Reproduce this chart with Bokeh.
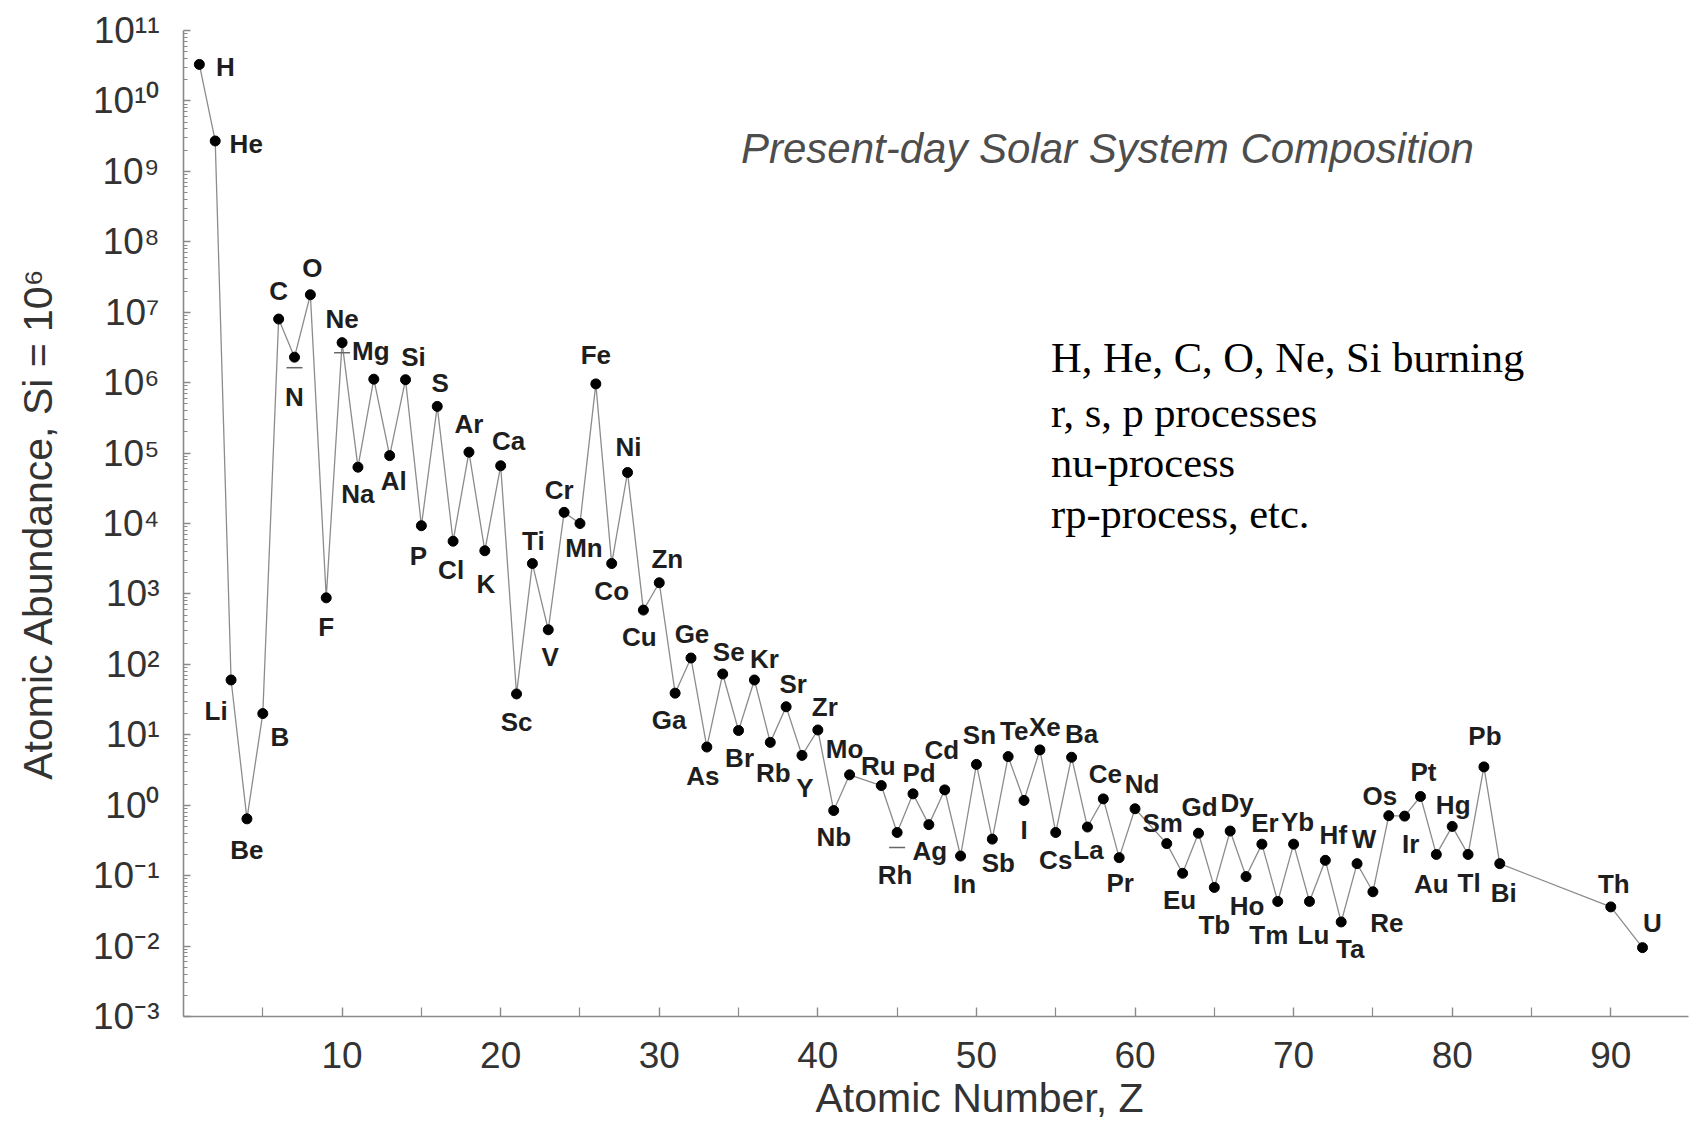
from bokeh.plotting import figure
from bokeh.models import Range1d, FixedTicker, CustomJSTickFormatter, ColumnDataSource, Label, Title
from bokeh.embed import file_html
from bokeh.resources import INLINE
from bokeh.core.properties import value

# ---------------- data ----------------
elements = ["H", "He", "Li", "Be", "B", "C", "N", "O", "F", "Ne",
            "Na", "Mg", "Al", "Si", "P", "S", "Cl", "Ar", "K", "Ca",
            "Sc", "Ti", "V", "Cr", "Mn", "Fe", "Co", "Ni", "Cu", "Zn",
            "Ga", "Ge", "As", "Se", "Br", "Kr", "Rb", "Sr", "Y", "Zr",
            "Nb", "Mo", "Ru", "Rh", "Pd", "Ag", "Cd", "In", "Sn", "Sb",
            "Te", "I", "Xe", "Cs", "Ba", "La", "Ce", "Pr", "Nd", "Sm",
            "Eu", "Gd", "Tb", "Dy", "Ho", "Er", "Tm", "Yb", "Lu", "Hf",
            "Ta", "W", "Re", "Os", "Ir", "Pt", "Au", "Hg", "Tl", "Pb",
            "Bi", "Th", "U"]

atomic_number = [1, 2, 3, 4, 5, 6, 7, 8, 9, 10,
                 11, 12, 13, 14, 15, 16, 17, 18, 19, 20,
                 21, 22, 23, 24, 25, 26, 27, 28, 29, 30,
                 31, 32, 33, 34, 35, 36, 37, 38, 39, 40,
                 41, 42, 44, 45, 46, 47, 48, 49, 50, 51,
                 52, 53, 54, 55, 56, 57, 58, 59, 60, 62,
                 63, 64, 65, 66, 67, 68, 69, 70, 71, 72,
                 73, 74, 75, 76, 77, 78, 79, 80, 81, 82,
                 83, 90, 92]

abundance = [3.3e10, 2.7e9, 60, 0.64, 20, 8.0e6, 2.3e6, 1.77e7, 880, 3.7e6,
             6.3e4, 1.12e6, 9.2e4, 1.1e6, 9.3e3, 4.6e5, 5.6e3, 1.03e5, 4.1e3, 6.6e4,
             38, 2.7e3, 310, 1.44e4, 1.0e4, 9.6e5, 2.7e3, 5.3e4, 590, 1.44e3,
             39, 123, 6.7, 73, 11.5, 60, 7.8, 25, 5.1, 11.7,
             0.84, 2.7, 1.9, 0.41, 1.45, 0.53, 1.65, 0.19, 3.8, 0.33,
             4.9, 1.17, 6.1, 0.41, 4.8, 0.49, 1.23, 0.18, 0.89, 0.285,
             0.108, 0.40, 0.068, 0.43, 0.097, 0.28, 0.043, 0.28, 0.043, 0.165,
             0.022, 0.148, 0.059, 0.71, 0.70, 1.33, 0.20, 0.50, 0.20, 3.5,
             0.148, 0.036, 0.0095]

# small horizontal bars (alternative values) seen at N, Ne and Rh
alt_z = [7, 10, 45]
alt_values = [1.63e6, 2.66e6, 0.25]

x_ticks = [10, 20, 30, 40, 50, 60, 70, 80, 90]
x_minor_ticks = [5, 15, 25, 35, 45, 55, 65, 75, 85, 95]
y_exponents = [-3, -2, -1, 0, 1, 2, 3, 4, 5, 6, 7, 8, 9, 10, 11]
y_tick_labels = ["10⁻³", "10⁻²", "10⁻¹", "10⁰", "10¹", "10²", "10³", "10⁴",
                 "10⁵", "10⁶", "10⁷", "10⁸", "10⁹", "10¹⁰", "10¹¹"]

title_text = "Present-day Solar System Composition"
x_title = "Atomic Number, Z"
y_title = "Atomic Abundance, Si = 10⁶"
note_lines = ["H, He, C, O, Ne, Si burning", "r, s, p processes",
              "nu-process", "rp-process, etc."]

# ---------------- label layout (pixel offsets of each element symbol) ----------------
label_dx = [26, 31, -15, 0, 17, 0, 0, 2, 0, 0,
            0, -3, 4, 8, -3, 3, -2, 0, 1, 8,
            0, 1, 2, -5, 4, 0, 0, 1, -4, 8,
            -6, 1, -4, 6, 1, 10, 3, 7, 3, 7,
            0, -5, -3, -2, 6, 1, -3, 4, 3, 6,
            6, 0, 5, 0, 10, 1, 2, 1, 7, -4,
            -3, 1, 0, 7, 1, 3, -9, 4, 4, 8,
            9, 7, 14, -9, 6, 3, -5, 1, 1, 1,
            4, 3, 10]
label_dy = [3, 3, 31, 31, 23, -28, 40, -27, 29, -24,
            27, -28, 25, -23, 30, -23, 29, -28, 33, -25,
            28, -23, 27, -22, 24, -29, 27, -25, 27, -24,
            27, -24, 29, -22, 27, -21, 31, -23, 33, -23,
            26, -26, -20, 43, -21, 26, -40, 28, -29, 24,
            -26, 30, -23, 28, -23, 23, -25, 25, -25, -21,
            27, -26, 38, -28, 29, -21, 34, -22, 34, -25,
            27, -25, 31, -20, 28, -24, 30, -21, 29, -31,
            29, -23, -25]

src = ColumnDataSource(dict(z=atomic_number, val=abundance, el=elements,
                            dx=label_dx, dy=label_dy))

p = figure(width=1690, height=1122,
           x_range=Range1d(0, 94.9), y_range=Range1d(1e-3, 1e11),
           y_axis_type="log", output_backend="svg", toolbar_location=None,
           min_border_left=183, min_border_right=2,
           min_border_top=30, min_border_bottom=106)
p.outline_line_color = None
p.grid.visible = False
p.background_fill_color = "white"
p.border_fill_color = "white"

axis_col = "#8a8a8a"
for ax in (p.xaxis[0], p.yaxis[0]):
    ax.axis_line_color = axis_col
    ax.axis_line_width = 1.6
    ax.major_tick_line_color = axis_col
    ax.minor_tick_line_color = axis_col
    ax.major_tick_line_width = 1.4
    ax.minor_tick_line_width = 1.2
    ax.major_tick_out = 0
    ax.minor_tick_out = 0
    ax.major_label_text_font = "Liberation Sans"
    ax.major_label_text_font_size = "37px"
    ax.major_label_text_color = "#333333"
    ax.axis_label_text_font = "Liberation Sans"
    ax.axis_label_text_font_style = "normal"
    ax.axis_label_text_font_size = "41px"
    ax.axis_label_text_color = "#333333"

xa = p.xaxis[0]
xa.ticker = FixedTicker(ticks=x_ticks, minor_ticks=x_minor_ticks)
xa.major_tick_in = 9
xa.minor_tick_in = 9
xa.major_label_standoff = 25

ya = p.yaxis[0]
y_minor = [m * 10.0 ** e for e in y_exponents[:-1] for m in range(2, 10)]
ya.ticker = FixedTicker(ticks=[10.0 ** e for e in y_exponents], minor_ticks=y_minor)
ya.formatter = CustomJSTickFormatter(
    args=dict(labels=y_tick_labels, first=y_exponents[0]),
    code="const i = Math.round(Math.log10(tick)) - first; return labels[i];")
ya.major_tick_in = 7
ya.minor_tick_in = 4
ya.major_label_standoff = 24
ya.axis_label = y_title
ya.axis_label_standoff = 29

# x-axis title, below the axis and right of centre as in the reference
p.add_layout(Title(text=x_title, align="left", offset=632, standoff=4,
                   text_line_height=0.75,
                   text_font="Liberation Sans", text_font_style="normal",
                   text_font_size="41px", text_color="#333333"), "below")

# connecting line, dots, alternative-value bars
p.line(x="z", y="val", source=src, line_color="#8c8c8c", line_width=1.3)
p.scatter(x="z", y="val", source=src, size=10, fill_color="black", line_color="black")
p.scatter(x=alt_z, y=alt_values, marker="dash", size=16, line_color="#666666", line_width=1.5)

# element symbols
p.text(x="z", y="val", text="el", x_offset="dx", y_offset="dy", source=src,
       text_align="center", text_baseline="middle",
       text_font=value("Liberation Sans"), text_font_style="bold",
       text_font_size=value("26px"), text_color="#1e1e1e")

# title and annotation texts
p.add_layout(Label(x=35.15, y=2.1e9, text=title_text, text_align="left",
                   text_baseline="middle", text_font="Liberation Sans",
                   text_font_style="italic", text_font_size="42px",
                   text_color="#4d4d4d"))

note_y = [2.24e6, 3.82e5, 7.25e4, 1.37e4]
for txt, yy in zip(note_lines, note_y):
    p.add_layout(Label(x=54.7, y=yy, text=txt, text_align="left",
                       text_baseline="middle", text_font="Liberation Serif",
                       text_font_size="42.5px", text_color="black"))

open("out.html", "w").write(file_html(p, INLINE))
